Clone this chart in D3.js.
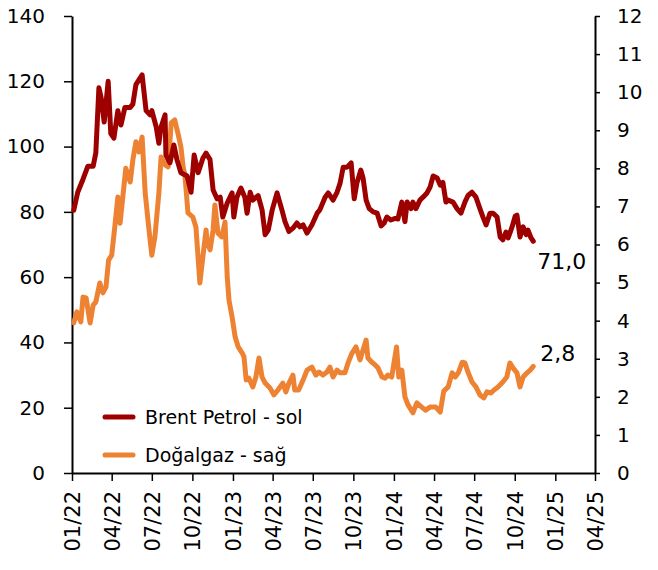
<!DOCTYPE html>
<html>
<head>
<meta charset="utf-8">
<script src="https://cdn.jsdelivr.net/npm/d3@7"></script>
<style>
  body { margin: 0; background: #fff; }
  svg { display: block; font-family: 'DejaVu Sans', sans-serif; }
  .axis path, .axis line { stroke: #000; }
  .axis text { fill: #000; }
</style>
</head>
<body>
<div class="dataviz"></div>
<script>
// weekly-ish readings, [date, USD/barrel]
const brent = [
  ['2022-01-05', 80.5], ['2022-01-14', 86], ['2022-01-26', 90], ['2022-02-06', 94],
  ['2022-02-18', 94], ['2022-02-24', 98], ['2022-03-03', 118], ['2022-03-08', 115],
  ['2022-03-15', 107.5], ['2022-03-24', 120], ['2022-03-30', 104], ['2022-04-06', 102.6],
  ['2022-04-15', 111], ['2022-04-22', 106.6], ['2022-05-01', 112], ['2022-05-13', 112],
  ['2022-05-19', 113], ['2022-05-26', 119], ['2022-06-09', 122], ['2022-06-18', 111],
  ['2022-06-27', 109.7], ['2022-07-01', 111], ['2022-07-11', 106], ['2022-07-17', 101],
  ['2022-07-22', 106], ['2022-07-31', 109.7], ['2022-08-02', 97.4], ['2022-08-11', 95],
  ['2022-08-20', 100.5], ['2022-08-27', 96], ['2022-09-05', 92], ['2022-09-19', 91],
  ['2022-09-28', 86], ['2022-10-05', 97.4], ['2022-10-14', 92], ['2022-10-25', 96.5],
  ['2022-11-01', 98], ['2022-11-10', 96], ['2022-11-17', 86.7], ['2022-11-26', 84],
  ['2022-12-03', 84.5], ['2022-12-09', 78.4], ['2022-12-19', 82.7], ['2022-12-30', 85.8],
  ['2023-01-03', 78.4], ['2023-01-10', 84.5], ['2023-01-19', 87.3], ['2023-01-28', 84.5],
  ['2023-02-02', 79.6], ['2023-02-09', 86], ['2023-02-15', 83.6], ['2023-02-27', 85],
  ['2023-03-08', 80.6], ['2023-03-15', 73], ['2023-03-22', 74.4], ['2023-03-31', 80.6],
  ['2023-04-11', 85.8], ['2023-04-22', 80.6], ['2023-04-29', 77], ['2023-05-08', 74],
  ['2023-05-17', 75], ['2023-05-26', 76.6], ['2023-06-02', 75.4], ['2023-06-09', 76],
  ['2023-06-18', 73.5], ['2023-06-29', 76], ['2023-07-11', 79.6], ['2023-07-17', 80.6],
  ['2023-07-29', 84.5], ['2023-08-05', 85.8], ['2023-08-16', 83.6], ['2023-08-25', 86],
  ['2023-09-01', 88.8], ['2023-09-08', 93.7], ['2023-09-17', 93.7], ['2023-09-26', 95],
  ['2023-10-03', 84], ['2023-10-09', 88.8], ['2023-10-18', 92.8], ['2023-10-23', 90.4],
  ['2023-10-30', 83.6], ['2023-11-06', 81], ['2023-11-15', 80], ['2023-11-24', 79.6],
  ['2023-12-03', 75.7], ['2023-12-10', 76.6], ['2023-12-16', 78.4], ['2023-12-25', 77.5],
  ['2024-01-04', 78], ['2024-01-10', 77.8], ['2024-01-19', 83], ['2024-01-26', 77],
  ['2024-01-31', 83], ['2024-02-09', 81], ['2024-02-13', 83], ['2024-02-20', 81],
  ['2024-02-29', 83.6], ['2024-03-07', 84.5], ['2024-03-16', 85.8], ['2024-03-23', 87.6],
  ['2024-03-30', 91], ['2024-04-08', 90.4], ['2024-04-15', 88.2], ['2024-04-21', 89],
  ['2024-04-28', 83], ['2024-05-03', 83.6], ['2024-05-14', 83], ['2024-05-23', 81],
  ['2024-06-01', 79.6], ['2024-06-10', 83], ['2024-06-17', 85], ['2024-06-26', 86],
  ['2024-07-05', 84.5], ['2024-07-14', 81], ['2024-07-21', 78.4], ['2024-07-28', 76],
  ['2024-08-06', 79.6], ['2024-08-13', 79.6], ['2024-08-22', 78.4], ['2024-08-29', 72.3],
  ['2024-09-04', 71.4], ['2024-09-11', 73.8], ['2024-09-16', 72], ['2024-09-25', 75.4],
  ['2024-10-02', 78.7], ['2024-10-06', 79], ['2024-10-13', 72.3], ['2024-10-20', 75.4],
  ['2024-10-27', 73], ['2024-10-31', 74.4], ['2024-11-07', 72], ['2024-11-12', 71.0]
]

// [date, USD/mmBtu]
const gas = [
  ['2022-01-05', 3.94], ['2022-01-12', 4.23], ['2022-01-21', 3.97], ['2022-01-26', 4.62],
  ['2022-02-02', 4.6], ['2022-02-11', 3.94], ['2022-02-18', 4.41], ['2022-02-24', 4.49],
  ['2022-03-05', 4.99], ['2022-03-12', 4.73], ['2022-03-19', 4.88], ['2022-03-25', 5.59],
  ['2022-04-01', 5.72], ['2022-04-08', 6.46], ['2022-04-15', 7.25], ['2022-04-20', 6.56],
  ['2022-04-26', 7.22], ['2022-05-03', 8.0], ['2022-05-13', 7.64], ['2022-05-19', 8.22],
  ['2022-05-26', 8.7], ['2022-06-02', 8.43], ['2022-06-09', 8.82], ['2022-06-16', 7.35],
  ['2022-06-23', 6.56], ['2022-07-01', 5.72], ['2022-07-08', 6.2], ['2022-07-17', 7.35],
  ['2022-07-22', 8.3], ['2022-07-31', 8.09], ['2022-08-07', 8.04], ['2022-08-14', 9.19],
  ['2022-08-22', 9.27], ['2022-08-29', 8.93], ['2022-09-05', 8.56], ['2022-09-10', 8.04],
  ['2022-09-14', 7.83], ['2022-09-21', 6.83], ['2022-10-02', 6.72], ['2022-10-09', 6.46],
  ['2022-10-18', 4.99], ['2022-10-25', 5.7], ['2022-11-01', 6.38], ['2022-11-03', 6.12],
  ['2022-11-10', 5.86], ['2022-11-17', 6.38], ['2022-11-21', 7.04], ['2022-11-28', 6.3],
  ['2022-12-07', 6.2], ['2022-12-14', 6.59], ['2022-12-19', 5.15], ['2022-12-23', 4.54],
  ['2022-12-30', 4.1], ['2023-01-06', 3.57], ['2023-01-13', 3.31], ['2023-01-22', 3.15],
  ['2023-01-26', 3.05], ['2023-01-31', 2.44], ['2023-02-06', 2.49], ['2023-02-15', 2.26],
  ['2023-02-22', 2.52], ['2023-03-01', 3.02], ['2023-03-08', 2.52], ['2023-03-15', 2.36],
  ['2023-03-26', 2.23], ['2023-04-04', 2.05], ['2023-04-13', 2.18], ['2023-04-24', 2.36],
  ['2023-05-01', 2.13], ['2023-05-08', 2.36], ['2023-05-17', 2.57], ['2023-05-21', 2.18],
  ['2023-05-30', 2.18], ['2023-06-09', 2.44], ['2023-06-18', 2.7], ['2023-06-29', 2.78],
  ['2023-07-08', 2.57], ['2023-07-15', 2.65], ['2023-07-24', 2.57], ['2023-08-02', 2.65],
  ['2023-08-09', 2.78], ['2023-08-16', 2.52], ['2023-08-25', 2.7], ['2023-09-01', 2.63],
  ['2023-09-12', 2.63], ['2023-09-19', 2.89], ['2023-09-28', 3.15], ['2023-10-07', 3.31],
  ['2023-10-16', 2.97], ['2023-10-23', 3.23], ['2023-10-30', 3.49], ['2023-11-03', 3.02],
  ['2023-11-12', 2.91], ['2023-11-19', 2.84], ['2023-11-26', 2.76], ['2023-12-05', 2.52],
  ['2023-12-12', 2.49], ['2023-12-18', 2.57], ['2023-12-27', 2.52], ['2024-01-07', 3.31],
  ['2024-01-12', 2.52], ['2024-01-19', 2.7], ['2024-01-26', 2.0], ['2024-02-02', 1.79],
  ['2024-02-13', 1.58], ['2024-02-22', 1.84], ['2024-03-04', 1.73], ['2024-03-13', 1.65],
  ['2024-03-23', 1.73], ['2024-04-05', 1.73], ['2024-04-15', 1.6], ['2024-04-23', 2.15],
  ['2024-05-03', 2.26], ['2024-05-12', 2.63], ['2024-05-19', 2.52], ['2024-05-26', 2.63],
  ['2024-06-04', 2.91], ['2024-06-10', 2.89], ['2024-06-17', 2.65], ['2024-06-26', 2.39],
  ['2024-07-05', 2.26], ['2024-07-14', 2.05], ['2024-07-23', 1.97], ['2024-07-30', 2.13],
  ['2024-08-08', 2.1], ['2024-08-15', 2.18], ['2024-08-24', 2.26], ['2024-09-04', 2.39],
  ['2024-09-13', 2.52], ['2024-09-20', 2.89], ['2024-09-27', 2.76], ['2024-10-06', 2.63],
  ['2024-10-13', 2.26], ['2024-10-20', 2.52], ['2024-10-29', 2.63], ['2024-11-05', 2.7],
  ['2024-11-12', 2.8]
]

const seriesNames = ['Brent Petrol - sol', 'Doğalgaz - sağ']
const seriesColors = ['#9e0000', '#ee8233']
const leftTicks = [0, 20, 40, 60, 80, 100, 120, 140]
const rightTicks = [0, 1, 2, 3, 4, 5, 6, 7, 8, 9, 10, 11, 12]
const xStart = '2022-01-01'
const xEnd = '2025-04-01'

const width = 658
const height = 570
const margin = { top: 16, right: 63, bottom: 97, left: 72 }

const parse = d3.timeParse('%Y-%m-%d')
const comma = v => d3.format('.1f')(v).replace('.', ',')

const svg = d3.select('.dataviz').append('svg').attr('width', width).attr('height', height)

// scales
const xScale = d3.scaleTime()
  .domain([parse(xStart), parse(xEnd)])
  .range([margin.left, width - margin.right])

const yLeft = d3.scaleLinear().domain([0, 140]).range([height - margin.bottom, margin.top])
const yRight = d3.scaleLinear().domain([0, 12]).range([height - margin.bottom, margin.top])

// axes
const styleAxis = g => {
  g.select('.domain').attr('stroke-width', 2)
  g.selectAll('.tick line').attr('stroke-width', 1.5)
}

svg.append('g')
  .attr('class', 'axis')
  .attr('transform', `translate(${margin.left}, 0)`)
  .call(d3.axisLeft(yLeft).tickValues(leftTicks).tickSize(8).tickSizeOuter(0).tickPadding(19))
  .call(styleAxis)
  .selectAll('text').attr('font-size', 20).attr('font-family', 'DejaVu Sans')

svg.append('g')
  .attr('class', 'axis')
  .attr('transform', `translate(${width - margin.right}, 0)`)
  .call(d3.axisRight(yRight).tickValues(rightTicks).tickSize(5).tickSizeOuter(0).tickPadding(17))
  .call(styleAxis)
  .selectAll('text').attr('font-size', 20).attr('font-family', 'DejaVu Sans')

const xAxis = svg.append('g')
  .attr('class', 'axis')
  .attr('transform', `translate(0, ${height - margin.bottom})`)
  .call(d3.axisBottom(xScale)
    .ticks(d3.timeMonth.every(3))
    .tickFormat(d3.timeFormat('%m/%y'))
    .tickSize(8)
    .tickSizeOuter(0))
  .call(styleAxis)

xAxis.selectAll('text')
  .attr('font-size', 21)
  .attr('font-family', 'DejaVu Sans')
  .attr('transform', 'rotate(-90)')
  .attr('text-anchor', 'end')
  .attr('x', -18)
  .attr('y', 0)
  .attr('dy', '0.36em')

// lines
const lineLeft = d3.line()
  .x(d => xScale(parse(d[0])))
  .y(d => yLeft(d[1]))

const lineRight = d3.line()
  .x(d => xScale(parse(d[0])))
  .y(d => yRight(d[1]))

svg.append('path')
  .datum(gas)
  .attr('fill', 'none')
  .attr('stroke', seriesColors[1])
  .attr('stroke-width', 5)
  .attr('stroke-linejoin', 'round')
  .attr('stroke-linecap', 'round')
  .attr('d', lineRight)

svg.append('path')
  .datum(brent)
  .attr('fill', 'none')
  .attr('stroke', seriesColors[0])
  .attr('stroke-width', 5)
  .attr('stroke-linejoin', 'round')
  .attr('stroke-linecap', 'round')
  .attr('d', lineLeft)

// end labels
const lastBrent = brent[brent.length - 1]
const lastGas = gas[gas.length - 1]

svg.append('text')
  .attr('x', xScale(parse(lastBrent[0])) + 4)
  .attr('y', yLeft(lastBrent[1]) + 28)
  .attr('font-size', 22)
  .text(comma(lastBrent[1]))

svg.append('text')
  .attr('x', xScale(parse(lastGas[0])) + 7)
  .attr('y', yRight(lastGas[1]) - 5)
  .attr('font-size', 22)
  .text(comma(lastGas[1]))

// legend
const legend = svg.append('g').attr('transform', 'translate(105, 417)')

seriesNames.forEach((name, i) => {
  const row = legend.append('g').attr('transform', `translate(0, ${i * 38})`)
  row.append('line')
    .attr('x1', 0).attr('x2', 28)
    .attr('stroke', seriesColors[i])
    .attr('stroke-width', 5)
    .attr('stroke-linecap', 'round')
  row.append('text')
    .attr('x', 40)
    .attr('dy', '0.36em')
    .attr('font-size', 19)
    .text(name)
})
</script>
</body>
</html>
